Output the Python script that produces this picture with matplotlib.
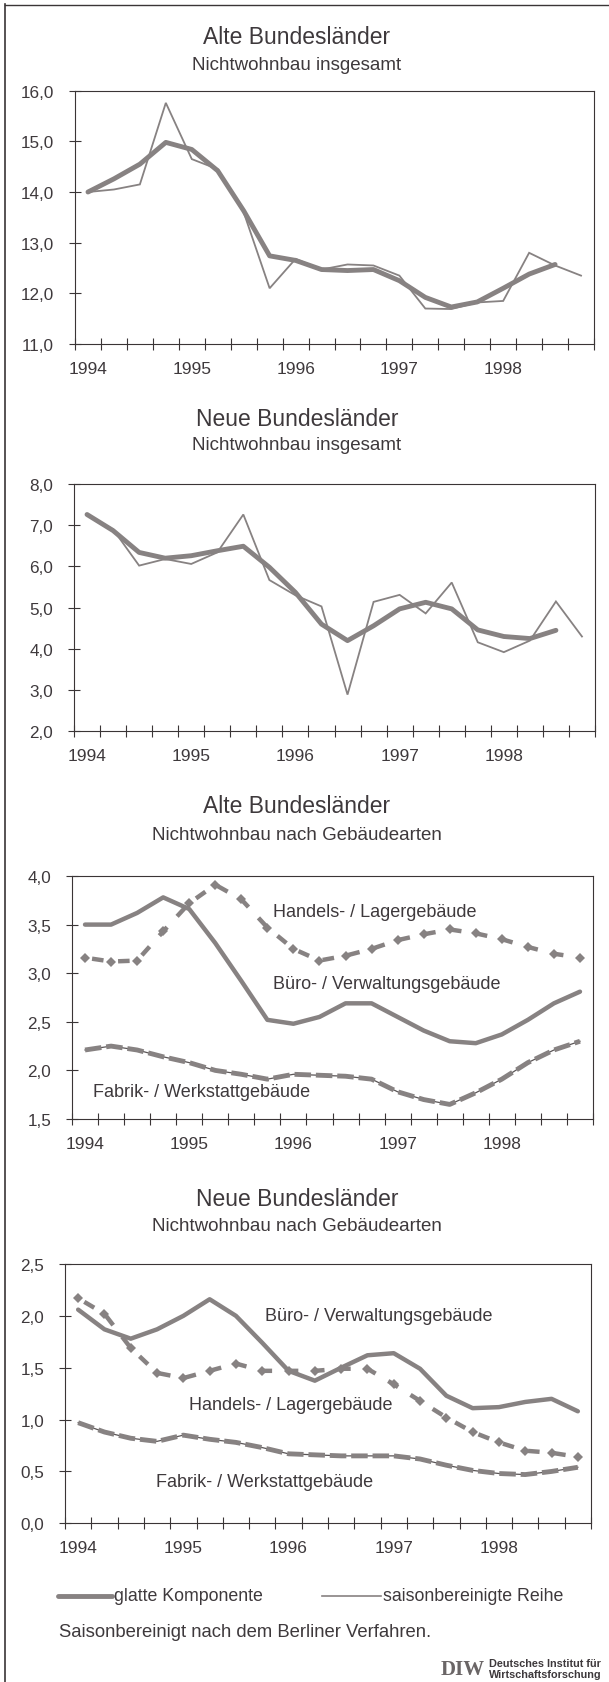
import matplotlib
matplotlib.use("Agg")
import matplotlib.pyplot as plt
from matplotlib.lines import Line2D

plt.rcParams['font.family'] = ['Liberation Sans', 'DejaVu Sans']

W, H = 609, 1683

# ---------------- data (quarters 1994Q1 .. 1998Q4) ----------------
quarters = list(range(20))
year_labels = ['1994', '1995', '1996', '1997', '1998']
year_pos = [0, 4, 8, 12, 16]

# Alte Bundesländer, Nichtwohnbau insgesamt
alt_ges_saison = [14.0, 14.05, 14.15, 15.76, 14.65, 14.45, 13.6, 12.1, 12.68, 12.47,
                  12.57, 12.55, 12.35, 11.7, 11.69, 11.82, 11.85, 12.8, 12.55, 12.35]
alt_ges_glatt = [14.0, 14.26, 14.55, 14.98, 14.84, 14.42, 13.63, 12.74, 12.65, 12.47,
                 12.45, 12.47, 12.25, 11.92, 11.73, 11.83, 12.1, 12.38, 12.57]

# Neue Bundesländer, Nichtwohnbau insgesamt
neu_ges_saison = [7.25, 6.9, 6.02, 6.18, 6.06, 6.34, 7.26, 5.67, 5.3, 5.03,
                  2.89, 5.14, 5.31, 4.86, 5.61, 4.16, 3.92, 4.2, 5.15, 4.3]
neu_ges_glatt = [7.26, 6.87, 6.34, 6.2, 6.26, 6.38, 6.49, 5.98, 5.37, 4.6,
                 4.2, 4.56, 4.97, 5.13, 4.97, 4.46, 4.3, 4.25, 4.45]

# Alte Bundesländer nach Gebäudearten
alt_buero = [3.5, 3.5, 3.62, 3.78, 3.66, 3.31, 2.92, 2.52, 2.48, 2.55,
             2.69, 2.69, 2.55, 2.41, 2.30, 2.28, 2.37, 2.52, 2.69, 2.81]
alt_handel = [3.16, 3.12, 3.13, 3.43, 3.72, 3.91, 3.76, 3.47, 3.25, 3.13,
              3.18, 3.25, 3.34, 3.40, 3.45, 3.41, 3.35, 3.27, 3.20, 3.16]
alt_fabrik = [2.21, 2.25, 2.21, 2.14, 2.08, 2.00, 1.96, 1.91, 1.96, 1.95,
              1.94, 1.91, 1.78, 1.70, 1.65, 1.77, 1.91, 2.08, 2.21, 2.30]

# Neue Bundesländer nach Gebäudearten
neu_buero = [2.06, 1.87, 1.78, 1.87, 2.0, 2.16, 2.0, 1.74, 1.47, 1.375,
             1.5, 1.62, 1.64, 1.49, 1.23, 1.11, 1.12, 1.17, 1.2, 1.08]
neu_handel = [2.17, 2.02, 1.69, 1.45, 1.40, 1.47, 1.54, 1.47, 1.47, 1.47,
              1.49, 1.49, 1.34, 1.18, 1.02, 0.88, 0.78, 0.70, 0.68, 0.64]
neu_fabrik = [0.97, 0.88, 0.82, 0.79, 0.85, 0.81, 0.78, 0.73, 0.67, 0.66,
              0.65, 0.65, 0.65, 0.62, 0.56, 0.51, 0.48, 0.47, 0.50, 0.54]

# ---------------- style ----------------
TXT = '#3e393c'
LINE = '#878282'
SPINE = '#3a3536'

fig = plt.figure(figsize=(W / 100, H / 100), dpi=100)
fig.patch.set_facecolor('white')


def fx(px):
    return px / W


def fy(py):
    return 1 - py / H


def make_axes(x0, x1, ytop, ybot, ymin, ymax, ystep, title, subtitle, ty, sy):
    ax = fig.add_axes([fx(x0), fy(ybot), fx(x1 - x0), (ybot - ytop) / H])
    ax.set_xlim(-0.5, 19.5)
    ax.set_ylim(ymin, ymax)
    n = int(round((ymax - ymin) / ystep))
    yt = [ymin + i * ystep for i in range(n + 1)]
    ax.set_yticks(yt)
    ax.set_yticklabels([f"{v:.1f}".replace('.', ',') for v in yt])
    ax.set_xticks(year_pos)
    ax.set_xticklabels(year_labels)
    ax.set_xticks([q - 0.5 for q in range(21)], minor=True)
    ax.tick_params(axis='x', which='major', length=0, pad=12, labelsize=12.5, labelcolor=TXT)
    ax.tick_params(axis='x', which='minor', direction='inout', length=8, width=0.8, color=SPINE)
    ax.tick_params(axis='y', direction='inout', length=8, width=0.8, color=SPINE,
                   labelsize=12.3, labelcolor=TXT, pad=11)
    for s in ax.spines.values():
        s.set_color(SPINE)
        s.set_linewidth(0.8)
    fig.text(fx(297), fy(ty), title, ha='center', va='center', fontsize=16.5, color=TXT)
    fig.text(fx(297), fy(sy), subtitle, ha='center', va='center', fontsize=13.5, color=TXT)
    return ax


# Panel 1
ax1 = make_axes(75, 594, 91.7, 345, 11.0, 16.0, 1.0,
                'Alte Bundesländer', 'Nichtwohnbau insgesamt', 37, 65)
ax1.plot(quarters, alt_ges_saison, color=LINE, lw=1.3, solid_joinstyle='miter')
ax1.plot(quarters[:len(alt_ges_glatt)], alt_ges_glatt, color=LINE, lw=3.5,
         solid_capstyle='round')

# Panel 2
ax2 = make_axes(74, 595, 485, 732.3, 2.0, 8.0, 1.0,
                'Neue Bundesländer', 'Nichtwohnbau insgesamt', 419, 446)
ax2.plot(quarters, neu_ges_saison, color=LINE, lw=1.3, solid_joinstyle='miter')
ax2.plot(quarters[:len(neu_ges_glatt)], neu_ges_glatt, color=LINE, lw=3.5,
         solid_capstyle='round')


def draw_types(ax, buero, handel, fabrik):
    ax.plot(quarters, buero, color=LINE, lw=3.2, solid_capstyle='round')
    ax.plot(quarters, handel, color=LINE, lw=3.2, linestyle=(4.3, (2.6, 3.3)))
    ax.plot(quarters, handel, color=LINE, lw=0, marker='D', markersize=5,
            markeredgewidth=0)
    ax.plot(quarters, fabrik, color='#5a5556', lw=0.9)
    ax.plot(quarters, fabrik, color=LINE, lw=3.5, linestyle=(0, (3.4, 1.0)))


# Panel 3
ax3 = make_axes(72, 593, 877, 1120, 1.5, 4.0, 0.5,
                'Alte Bundesländer', 'Nichtwohnbau nach Gebäudearten', 807, 835)
draw_types(ax3, alt_buero, alt_handel, alt_fabrik)
ax3.text(7.2, 3.63, 'Handels- / Lagergebäude', fontsize=13, color=TXT, va='center', ha='left')
ax3.text(7.2, 2.89, 'Büro- / Verwaltungsgebäude', fontsize=13, color=TXT, va='center', ha='left')
ax3.text(0.3, 1.78, 'Fabrik- / Werkstattgebäude', fontsize=13, color=TXT, va='center', ha='left')

# Panel 4
ax4 = make_axes(65, 591, 1265, 1524.3, 0.0, 2.5, 0.5,
                'Neue Bundesländer', 'Nichtwohnbau nach Gebäudearten', 1200, 1227)
draw_types(ax4, neu_buero, neu_handel, neu_fabrik)
ax4.text(7.1, 2.0, 'Büro- / Verwaltungsgebäude', fontsize=13, color=TXT, va='center', ha='left')
ax4.text(4.2, 1.15, 'Handels- / Lagergebäude', fontsize=13, color=TXT, va='center', ha='left')
ax4.text(2.95, 0.40, 'Fabrik- / Werkstattgebäude', fontsize=13, color=TXT, va='center', ha='left')

# ---------------- legend ----------------
ly = 1597
fig.add_artist(Line2D([fx(58), fx(112)], [fy(ly), fy(ly)], color=LINE, lw=3.5,
                      solid_capstyle='round', transform=fig.transFigure))
fig.text(fx(114), fy(ly), 'glatte Komponente', fontsize=12.8, color=TXT, va='center', ha='left')
fig.add_artist(Line2D([fx(322), fx(381)], [fy(ly), fy(ly)], color=LINE, lw=1.2,
                      transform=fig.transFigure))
fig.text(fx(383), fy(ly), 'saisonbereinigte Reihe', fontsize=12.8, color=TXT, va='center', ha='left')

fig.text(fx(59), fy(1633), 'Saisonbereinigt nach dem Berliner Verfahren.', fontsize=13.3,
         color=TXT, va='center', ha='left')

# DIW logo
fig.text(fx(441), fy(1670), 'DIW', fontsize=15, color='#6a6566', fontweight='bold',
         family=['Liberation Serif', 'DejaVu Serif'], va='center', ha='left')
fig.text(fx(489), fy(1664), 'Deutsches Institut für', fontsize=7.8, color=TXT,
         fontweight='bold', va='center', ha='left')
fig.text(fx(489), fy(1675), 'Wirtschaftsforschung', fontsize=7.8, color=TXT,
         fontweight='bold', va='center', ha='left')

# outer frame
fig.add_artist(Line2D([fx(5), fx(5)], [fy(5), fy(1683)], color=SPINE, lw=1.2,
                      transform=fig.transFigure))
fig.add_artist(Line2D([fx(5), fx(609)], [fy(6), fy(6)], color=SPINE, lw=1.0,
                      transform=fig.transFigure))

fig.savefig('out.png', dpi=100, facecolor='white')
